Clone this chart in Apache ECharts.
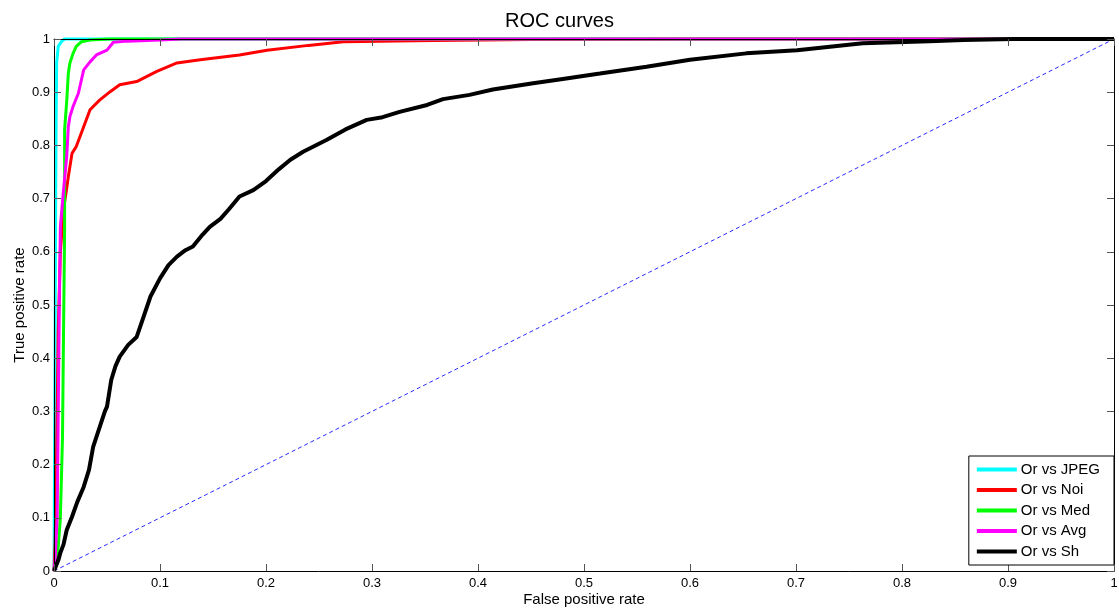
<!DOCTYPE html>
<html>
<head>
<meta charset="utf-8">
<title>ROC curves</title>
<script src="https://cdn.jsdelivr.net/npm/echarts@6/dist/echarts.min.js"></script>
<style>
  html, body { margin: 0; padding: 0; background: #fff; }
  #chart { width: 1119px; height: 611px; }
</style>
</head>
<body>
<div id="chart"></div>
<script>
// ROC curves: false positive rate (x) vs true positive rate (y)
const seriesNames = ['Or vs JPEG', 'Or vs Noi', 'Or vs Med', 'Or vs Avg', 'Or vs Sh'];

const jpegFpr = [0, 0.001, 0.0016, 0.002, 0.0025, 0.004, 0.007, 0.01, 1];
const jpegTpr = [0, 0.4, 0.716, 0.85, 0.955, 0.986, 0.995, 1, 1];

const noiFpr = [0, 0.001, 0.002, 0.003, 0.004, 0.006, 0.009, 0.012, 0.0135, 0.017, 0.021, 0.028, 0.034, 0.043, 0.053, 0.062, 0.078, 0.097, 0.116, 0.138, 0.175, 0.201, 0.240, 0.273, 0.358, 0.45, 0.6, 1];
const noiTpr = [0, 0.05, 0.15, 0.3, 0.45, 0.6, 0.68, 0.72, 0.741, 0.785, 0.798, 0.835, 0.867, 0.885, 0.901, 0.914, 0.920, 0.939, 0.955, 0.961, 0.970, 0.979, 0.988, 0.995, 0.997, 0.999, 1, 1];

const medFpr = [0, 0.003, 0.006, 0.008, 0.009, 0.010, 0.010, 0.012, 0.0135, 0.015, 0.018, 0.021, 0.026, 0.034, 0.052, 1];
const medTpr = [0, 0.02, 0.1, 0.25, 0.45, 0.64, 0.829, 0.883, 0.935, 0.955, 0.973, 0.986, 0.995, 0.998, 1, 1];

const avgFpr = [0, 0.001, 0.003, 0.004, 0.005, 0.006, 0.009, 0.012, 0.0135, 0.015, 0.018, 0.023, 0.028, 0.034, 0.040, 0.050, 0.056, 0.069, 0.1, 0.12, 1];
const avgTpr = [0, 0.02, 0.1, 0.3, 0.5, 0.647, 0.716, 0.779, 0.835, 0.854, 0.873, 0.898, 0.942, 0.957, 0.970, 0.979, 0.994, 0.996, 0.998, 1, 1];

const shFpr = [0, 0.001, 0.004, 0.006, 0.009, 0.012, 0.017, 0.022, 0.028, 0.033, 0.037, 0.043, 0.048, 0.050, 0.054, 0.058, 0.062, 0.070, 0.078, 0.084, 0.091, 0.100, 0.108, 0.116, 0.124, 0.131, 0.140, 0.147, 0.157, 0.165, 0.175, 0.188, 0.200, 0.212, 0.223, 0.235, 0.257, 0.275, 0.295, 0.310, 0.326, 0.352, 0.367, 0.392, 0.414, 0.452, 0.480, 0.515, 0.559, 0.600, 0.653, 0.701, 0.763, 0.826, 0.858, 0.905, 1];
const shTpr = [0, 0.005, 0.02, 0.034, 0.05, 0.077, 0.102, 0.13, 0.158, 0.19, 0.234, 0.27, 0.30, 0.309, 0.359, 0.385, 0.403, 0.425, 0.440, 0.475, 0.516, 0.55, 0.575, 0.591, 0.603, 0.610, 0.632, 0.647, 0.662, 0.68, 0.704, 0.716, 0.733, 0.755, 0.773, 0.788, 0.810, 0.83, 0.848, 0.853, 0.863, 0.876, 0.887, 0.895, 0.905, 0.917, 0.925, 0.935, 0.948, 0.961, 0.973, 0.979, 0.992, 0.996, 0.998, 1, 1];

// chance line
const chanceFpr = [0, 1];
const chanceTpr = [0, 1];

const curves = [
  { name: seriesNames[0], fpr: jpegFpr, tpr: jpegTpr, color: '#00ffff', width: 3 },
  { name: seriesNames[1], fpr: noiFpr, tpr: noiTpr, color: '#ff0000', width: 3 },
  { name: seriesNames[2], fpr: medFpr, tpr: medTpr, color: '#00ff00', width: 3 },
  { name: seriesNames[3], fpr: avgFpr, tpr: avgTpr, color: '#ff00ff', width: 3 },
  { name: seriesNames[4], fpr: shFpr, tpr: shTpr, color: '#000000', width: 4 }
];

const pairs = (xs, ys) => xs.map((x, i) => [x, ys[i]]);
const font = 'Liberation Sans, Arial, sans-serif';

const tickLabel = { color: '#000', fontSize: 13, fontFamily: font };
const inTick = { show: true, inside: true, length: 7, lineStyle: { color: '#555', width: 1 } };
const boxLine = { show: true, onZero: false, lineStyle: { color: '#000', width: 1 } };

const chart = echarts.init(document.getElementById('chart'), null, { renderer: 'canvas' });

const series = curves.map((c, i) => ({
  name: c.name,
  type: 'line',
  data: pairs(c.fpr, c.tpr),
  showSymbol: false,
  symbol: 'none',
  clip: false,
  z: 2 + i * 0.01,
  lineStyle: { color: c.color, width: c.width },
  itemStyle: { color: c.color },
  emphasis: { disabled: true }
}));

series.unshift({
  name: 'chance',
  type: 'line',
  data: pairs(chanceFpr, chanceTpr),
  showSymbol: false,
  symbol: 'none',
  z: 1,
  lineStyle: { color: '#2a2aff', width: 1, type: [4, 3] },
  emphasis: { disabled: true }
});

chart.setOption({
  animation: false,
  backgroundColor: '#fff',
  title: {
    text: 'ROC curves',
    left: 'center',
    top: 6,
    textStyle: { fontFamily: font, fontSize: 20, fontWeight: 'normal', color: '#000' }
  },
  grid: { left: 54, right: 5, top: 39, bottom: 40, containLabel: false, outerBoundsMode: 'none' },
  legend: {
    data: seriesNames,
    orient: 'vertical',
    right: 5,
    bottom: 46,
    backgroundColor: '#fff',
    borderColor: '#000',
    borderWidth: 1,
    borderRadius: 0,
    padding: [6, 14, 6, 8],
    itemGap: 5.5,
    itemWidth: 40,
    itemHeight: 4,
    icon: 'rect',
    textStyle: { fontFamily: font, fontSize: 15, lineHeight: 15, color: '#000', padding: [0, 0, 0, -1] },
    z: 10
  },
  xAxis: [
    {
      type: 'value', min: 0, max: 1, interval: 0.1, position: 'bottom',
      name: 'False positive rate', nameLocation: 'middle', nameGap: 21, nameMoveOverlap: false,
      nameTextStyle: { fontFamily: font, fontSize: 15, color: '#000' },
      axisLine: boxLine, axisTick: inTick,
      axisLabel: Object.assign({ margin: 6 }, tickLabel),
      splitLine: { show: false }, z: 5
    },
    {
      type: 'value', min: 0, max: 1, interval: 0.1, position: 'top',
      axisLine: boxLine, axisTick: inTick, axisLabel: { show: false },
      splitLine: { show: false }, z: 5
    }
  ],
  yAxis: [
    {
      type: 'value', min: 0, max: 1, interval: 0.1, position: 'left',
      name: 'True positive rate', nameLocation: 'middle', nameGap: 27, nameMoveOverlap: false,
      nameTextStyle: { fontFamily: font, fontSize: 15, color: '#000' },
      axisLine: boxLine, axisTick: inTick,
      axisLabel: Object.assign({ margin: 4 }, tickLabel),
      splitLine: { show: false }, z: 5
    },
    {
      type: 'value', min: 0, max: 1, interval: 0.1, position: 'right',
      axisLine: boxLine, axisTick: inTick, axisLabel: { show: false },
      splitLine: { show: false }, z: 5
    }
  ],
  series: series
});
</script>
</body>
</html>
